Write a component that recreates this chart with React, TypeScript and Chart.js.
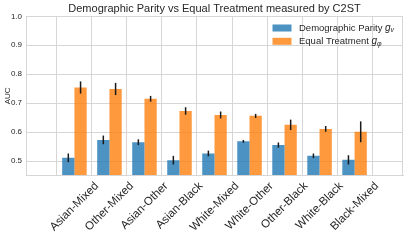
import React, { useEffect, useRef } from 'react';
import { Chart, registerables } from 'chart.js';

Chart.register(...registerables);

const categories = ['Asian-Mixed', 'Other-Mixed', 'Asian-Other', 'Asian-Black', 'White-Mixed', 'White-Other', 'Other-Black', 'White-Black', 'Black-Mixed'];
const dpValues = [0.511, 0.573, 0.565, 0.503, 0.526, 0.568, 0.555, 0.518, 0.504];
const dpErrors = [0.015, 0.015, 0.010, 0.015, 0.010, 0.005, 0.009, 0.008, 0.016];
const etValues = [0.754, 0.749, 0.715, 0.673, 0.659, 0.656, 0.625, 0.611, 0.601];
const etErrors = [0.021, 0.021, 0.010, 0.013, 0.012, 0.007, 0.018, 0.010, 0.036];
const yTicks = [0.5, 0.6, 0.7, 0.8, 0.9, 1.0];
const title = 'Demographic Parity vs Equal Treatment measured by C2ST';
const yTitle = 'AUC';
const legendItems = [
  { label: 'Demographic Parity ', sym: 'g', sub: 'v', color: 'rgba(31,119,180,0.8)' },
  { label: 'Equal Treatment ', sym: 'g', sub: 'φ', color: 'rgba(255,127,14,0.8)' },
];

const FONT = '"Liberation Sans", Arial, sans-serif';
const TEXT = '#262626';
const GRID = '#d6d6d6';

const overlay = {
  id: 'overlay',
  afterDatasetsDraw(chart: any) {
    const ctx = chart.ctx;
    const y = chart.scales.y;
    const errs = [dpErrors, etErrors];
    const vals = [dpValues, etValues];
    ctx.save();
    ctx.strokeStyle = '#1a1a1a';
    ctx.lineWidth = 1.5;
    for (let d = 0; d < 2; d++) {
      const meta = chart.getDatasetMeta(d);
      meta.data.forEach((el: any, i: number) => {
        ctx.beginPath();
        ctx.moveTo(el.x, y.getPixelForValue(vals[d][i] - errs[d][i]));
        ctx.lineTo(el.x, y.getPixelForValue(vals[d][i] + errs[d][i]));
        ctx.stroke();
      });
    }
    ctx.restore();
  },
  afterDraw(chart: any) {
    const ctx = chart.ctx;
    const a = chart.chartArea;
    const x = chart.scales.x;
    ctx.save();
    // frame
    ctx.strokeStyle = GRID;
    ctx.lineWidth = 1;
    ctx.strokeRect(Math.round(a.left) + 0.5, Math.round(a.top) + 0.5, Math.round(a.right - a.left) - 1, Math.round(a.bottom - a.top));
    // title
    ctx.fillStyle = TEXT;
    ctx.font = `11px ${FONT}`;
    ctx.textAlign = 'center';
    ctx.textBaseline = 'middle';
    ctx.fillText(title, (a.left + a.right) / 2, 8.5);
    // y title
    ctx.save();
    ctx.font = `8px ${FONT}`;
    ctx.translate(8, (a.top + a.bottom) / 2);
    ctx.rotate(-Math.PI / 2);
    ctx.fillText(yTitle, 0, 0);
    ctx.restore();
    // x labels
    const fs = 11.5;
    ctx.font = `${fs}px ${FONT}`;
    categories.forEach((c, i) => {
      const px = x.getPixelForValue(i);
      const L = ctx.measureText(c).width;
      const H = fs * 1.15;
      const cy = a.bottom + 4 + (L + H) * 0.35355;
      ctx.save();
      ctx.translate(px, cy);
      ctx.rotate(-Math.PI / 4);
      ctx.textAlign = 'center';
      ctx.textBaseline = 'middle';
      ctx.fillText(c, 0, 0);
      ctx.restore();
    });
    // legend
    legendItems.forEach((it, k) => {
      const ty = 28 + k * 13.3;
      ctx.fillStyle = it.color;
      ctx.fillRect(272.5, ty - 3.5, 19, 7);
      ctx.fillStyle = TEXT;
      ctx.font = `9.5px ${FONT}`;
      ctx.textAlign = 'left';
      ctx.textBaseline = 'middle';
      let tx = 299;
      ctx.fillText(it.label, tx, ty);
      tx += ctx.measureText(it.label).width;
      ctx.font = `italic 10px ${FONT}`;
      ctx.fillText(it.sym, tx, ty);
      tx += ctx.measureText(it.sym).width;
      ctx.font = `italic 7px ${FONT}`;
      ctx.fillText(it.sub, tx, ty + 2.5);
    });
    ctx.restore();
  },
};

export default function App() {
  const ref = useRef<HTMLCanvasElement>(null);
  useEffect(() => {
    if (!ref.current) return;
    const chart = new Chart(ref.current, {
      type: 'bar',
      data: {
        datasets: [
          {
            label: 'Demographic Parity',
            data: categories.map((_, i) => ({ x: i, y: dpValues[i] })),
            backgroundColor: 'rgba(31,119,180,0.8)',
            borderWidth: 0,
          },
          {
            label: 'Equal Treatment',
            data: categories.map((_, i) => ({ x: i, y: etValues[i] })),
            backgroundColor: 'rgba(255,127,14,0.8)',
            borderWidth: 0,
          },
        ],
      },
      options: {
        responsive: false,
        animation: false,
        devicePixelRatio: 1,
        datasets: { bar: { categoryPercentage: 0.7, barPercentage: 1.0 } },
        layout: { padding: { top: 16.3, right: 4, left: 0, bottom: 0 } },
        plugins: { legend: { display: false }, title: { display: false }, tooltip: { enabled: false } },
        scales: {
          x: {
            type: 'linear',
            min: -0.785,
            max: 8.785,
            afterBuildTicks: (s: any) => { s.ticks = categories.map((_, i) => ({ value: i })); },
            afterFit: (s: any) => { s.height = 65.5; },
            ticks: { display: false },
            grid: { color: GRID, lineWidth: 1, drawTicks: false },
            border: { display: true, color: GRID, width: 1 },
          },
          y: {
            min: 0.45,
            max: 1.0,
            afterBuildTicks: (s: any) => { s.ticks = yTicks.map((v) => ({ value: v })); },
            afterFit: (s: any) => { s.width = 26; },
            ticks: {
              color: TEXT,
              font: { family: FONT, size: 8 },
              padding: 4,
              callback: (v: any) => Number(v).toFixed(1),
            },
            grid: { color: GRID, lineWidth: 1, drawTicks: false },
            border: { display: true, color: GRID, width: 1 },
          },
        },
      },
      plugins: [overlay],
    } as any);
    return () => chart.destroy();
  }, []);
  return (
    <div style={{ position: 'absolute', left: 0, top: 0, width: 407, height: 241 }}>
      <canvas ref={ref} width={407} height={241} style={{ width: 407, height: 241, display: 'block' }} />
    </div>
  );
}
